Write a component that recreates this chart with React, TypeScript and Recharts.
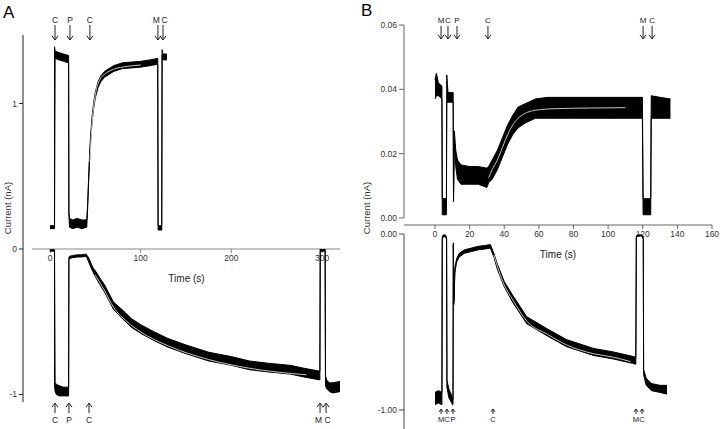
import React from 'react';
import { ComposedChart, Area, Line, XAxis, YAxis, ReferenceLine, ReferenceDot, Label } from 'recharts';

// ---------- panel A : upper trace (positive current) ----------
const aUpT = [0, 4.9, 5.0, 5.6, 10, 15, 20.5, 20.8, 21.5, 25, 30, 35, 40.5, 41.5, 42.5, 43.5, 44.5, 45.5, 46.5, 48, 50, 53, 56, 60, 65, 70, 80, 90, 100, 110, 118.8, 119.2, 123.2, 123.6, 124.5, 129];
const aUpLo = [0.14, 0.14, 0.14, 1.31, 1.30, 1.29, 1.28, 0.24, 0.15, 0.14, 0.15, 0.14, 0.15, 0.28, 0.45, 0.60, 0.72, 0.81, 0.88, 0.96, 1.04, 1.11, 1.15, 1.18, 1.20, 1.22, 1.24, 1.245, 1.25, 1.26, 1.27, 0.13, 0.13, 1.33, 1.30, 1.30];
const aUpHi = [0.16, 0.16, 1.39, 1.36, 1.35, 1.34, 1.33, 0.25, 0.21, 0.20, 0.21, 0.20, 0.20, 0.31, 0.48, 0.63, 0.75, 0.84, 0.92, 1.00, 1.08, 1.15, 1.19, 1.22, 1.24, 1.26, 1.28, 1.285, 1.29, 1.30, 1.31, 0.16, 0.16, 1.37, 1.34, 1.34];
const aUpFitT = [44, 46, 50, 55, 60, 70, 85, 100];
const aUpFitV = [0.6, 0.83, 1.06, 1.165, 1.2, 1.235, 1.255, 1.265];

// ---------- panel A : lower trace (negative current) ----------
const aDnT = [0, 4.9, 5.0, 5.6, 7, 10, 15, 20.5, 20.8, 21.5, 25, 30, 35, 40, 41, 43, 45, 47.5, 50, 55, 60, 65, 70, 80, 90, 100, 115, 130, 150, 175, 200, 220, 240, 265, 280, 297.6, 298, 303.4, 303.8, 305, 308, 312, 320];
const aDnLo = [-0.015, -0.015, -0.94, -0.98, -1.0, -1.01, -1.01, -1.01, -0.08, -0.065, -0.06, -0.055, -0.055, -0.05, -0.065, -0.095, -0.125, -0.16, -0.19, -0.245, -0.295, -0.355, -0.415, -0.48, -0.54, -0.58, -0.63, -0.675, -0.72, -0.77, -0.8, -0.83, -0.845, -0.86, -0.88, -0.9, -0.015, -0.015, -0.94, -0.96, -0.98, -0.99, -0.98];
const aDnHi = [-0.005, -0.005, -0.005, -0.92, -0.93, -0.94, -0.95, -0.95, -0.06, -0.05, -0.045, -0.04, -0.04, -0.035, -0.045, -0.065, -0.095, -0.13, -0.15, -0.2, -0.245, -0.305, -0.365, -0.42, -0.48, -0.52, -0.57, -0.615, -0.66, -0.71, -0.74, -0.77, -0.785, -0.8, -0.82, -0.84, 0.0, 0.0, -0.87, -0.9, -0.92, -0.92, -0.91];
const aDnFitT = [50, 60, 70, 85, 100, 130, 175, 220, 283];
const aDnFitV = [-0.18, -0.285, -0.4, -0.5, -0.57, -0.665, -0.76, -0.82, -0.865];

// ---------- panel B : upper trace ----------
const bUpT = [0, 0.8, 2, 4.0, 4.2, 6.6, 6.8, 7.5, 10.5, 10.7, 11.2, 12, 13, 15, 20, 25, 30, 31, 33, 36, 39, 42, 45, 48, 52, 58, 65, 80, 100, 119.8, 120.2, 124.6, 124.9, 130, 136];
const bUpLo = [0.037, 0.038, 0.038, 0.037, 0.001, 0.001, 0.036, 0.036, 0.036, 0.005, 0.024, 0.016, 0.012, 0.0105, 0.0105, 0.0105, 0.0095, 0.011, 0.012, 0.015, 0.019, 0.023, 0.026, 0.028, 0.0295, 0.031, 0.031, 0.031, 0.031, 0.031, 0.001, 0.001, 0.031, 0.031, 0.031];
const bUpHi = [0.043, 0.045, 0.042, 0.041, 0.006, 0.006, 0.0445, 0.039, 0.039, 0.006, 0.027, 0.021, 0.018, 0.0165, 0.016, 0.016, 0.0155, 0.016, 0.018, 0.021, 0.025, 0.029, 0.032, 0.0345, 0.0355, 0.037, 0.0375, 0.0375, 0.0375, 0.0375, 0.006, 0.006, 0.038, 0.0375, 0.037];
const bUpFitT = [31, 33, 36, 39, 42, 45, 48, 52, 58, 70, 90, 110];
const bUpFitV = [0.0125, 0.015, 0.018, 0.022, 0.026, 0.029, 0.031, 0.0325, 0.0335, 0.034, 0.0342, 0.0343];

// ---------- panel B : lower trace ----------
const bDnT = [0, 2, 4.0, 4.2, 4.8, 6.0, 6.7, 6.9, 8, 10.2, 10.4, 10.6, 10.9, 11.5, 12.5, 14, 17, 21, 25, 29, 32, 34, 36, 40, 45, 53, 65, 76, 91.5, 103, 114, 116, 116.3, 117, 119.5, 120.3, 120.5, 122, 125, 130, 134];
const bDnLo = [-0.97, -0.96, -0.97, -0.03, -0.015, -0.015, -0.03, -0.87, -0.93, -0.97, -0.97, -0.06, -0.4, -0.22, -0.16, -0.13, -0.11, -0.1, -0.09, -0.085, -0.08, -0.13, -0.2, -0.3, -0.39, -0.51, -0.58, -0.64, -0.69, -0.71, -0.735, -0.74, -0.02, -0.01, -0.01, -0.03, -0.8, -0.86, -0.89, -0.9, -0.91];
const bDnHi = [-0.9, -0.89, -0.9, -0.015, -0.005, -0.005, -0.02, -0.83, -0.88, -0.93, -0.94, -0.05, -0.38, -0.19, -0.14, -0.11, -0.09, -0.08, -0.07, -0.065, -0.06, -0.11, -0.17, -0.27, -0.35, -0.47, -0.54, -0.6, -0.65, -0.67, -0.695, -0.7, -0.01, -0.005, -0.005, -0.02, -0.77, -0.82, -0.85, -0.86, -0.86];
const bDnFitT = [34, 40, 45, 53, 65, 76, 91.5, 103, 113];
const bDnFitV = [-0.12, -0.29, -0.375, -0.495, -0.57, -0.63, -0.68, -0.7, -0.725];

// ---------- solution-change markers ----------
const aTopEvT = [5.5, 22, 44, 119, 124.6];
const aTopEvL = ['C', 'P', 'C', 'M', 'C'];
const aBotEvT = [5.5, 20.9, 43, 297.8, 304.4];
const aBotEvL = ['C', 'P', 'C', 'M', 'C'];
const bTopEvT = [3.5, 7.5, 12.7, 30.6, 120.2, 125.4];
const bTopEvL = ['M', 'C', 'P', 'C', 'M', 'C'];
const bBotEvT = [3.5, 6.9, 10.4, 33.5, 116.1, 119.6];
const bBotEvL = ['M', 'C', 'P', 'C', 'M', 'C'];

const aTicksX = [0, 100, 200, 300];
const bTicksX = [0, 20, 40, 60, 80, 100, 120, 140, 160];

const band = (t: number[], lo: number[], hi: number[]) => t.map((x, i) => ({ t: x, lo: lo[i], hi: hi[i] }));
const fit = (t: number[], v: number[]) => t.map((x, i) => ({ t: x, v: v[i] }));

const FONT = '"Liberation Sans", Arial, sans-serif';
const tickStyle = { fontSize: 8.5, fill: '#333', fontFamily: FONT };
const W = 720;
const H = 429;
const A_X: [number, number] = [-29.8, 319.8];
const B_X: [number, number] = [-17.9, 160];

// push two letters apart when their arrows sit close together
const nudge = (times: number[], i: number, gap: number) => {
  if (i + 1 < times.length && times[i + 1] - times[i] < gap) return -1.6;
  if (i > 0 && times[i] - times[i - 1] < gap) return 1.6;
  return 0;
};

// arrow + letter drawn at a marker position; offsets in px from the dot
const arrow = (label: string, tail: number, head: number, text: number, fs: number, hw: number, dx = 0) => (p: any) => {
  const { cx, cy } = p;
  const y1 = cy + tail;
  const y2 = cy + head;
  const d = y1 > y2 ? 1 : -1;
  return (
    <g>
      <line x1={cx} y1={y1} x2={cx} y2={y2} stroke="#222" strokeWidth={1} />
      <polyline points={`${cx - hw},${y2 + d * hw * 1.4} ${cx},${y2} ${cx + hw},${y2 + d * hw * 1.4}`} fill="none" stroke="#222" strokeWidth={1} />
      <text x={cx + dx} y={cy + text} textAnchor="middle" dominantBaseline="central" fontSize={fs} fill="#222" fontFamily={FONT}>{label}</text>
    </g>
  );
};

const trace = (rows: any[], key: string) => (
  <Area key={key} type="linear" data={rows} dataKey={(d: any) => [d.lo, d.hi]} stroke="#000" strokeWidth={1} fill="#000" fillOpacity={1} dot={false} activeDot={false} isAnimationActive={false} />
);
const fitLine = (rows: any[], key: string) => (
  <Line key={key} type="monotone" data={rows} dataKey="v" stroke="#c4c4c4" strokeWidth={1} dot={false} activeDot={false} isAnimationActive={false} />
);

const abs: React.CSSProperties = { position: 'absolute', left: 0, top: 0 };

export default function App() {
  return (
    <div style={{ position: 'absolute', left: 0, top: 0, width: W, height: H, background: '#fff', overflow: 'hidden', fontFamily: FONT }}>
      {/* panel A, positive half with time axis */}
      <div style={abs}>
        <ComposedChart width={W} height={H} margin={{ top: 35, right: 380, bottom: 147, left: 3 }}>
          <XAxis type="number" dataKey="t" domain={A_X} allowDataOverflow ticks={aTicksX} interval={0} axisLine={false} tickLine={{ stroke: '#888' }} tickSize={4} tick={tickStyle} height={33}>
            <Label value="Time (s)" position="insideBottom" offset={0} dx={5} style={{ fontSize: 10, fill: '#222', fontFamily: FONT }} />
          </XAxis>
          <YAxis type="number" domain={[0, 1.471]} allowDataOverflow ticks={[0, 1]} interval={0} width={20} tickSize={4} axisLine={{ stroke: '#222' }} tickLine={{ stroke: '#222' }} tick={tickStyle} />
          <ReferenceLine segment={[{ x: -20, y: 0 }, { x: 319.8, y: 0 }]} stroke="#888" ifOverflow="visible" />
          {trace(band(aUpT, aUpLo, aUpHi), 'aup')}
          {fitLine(fit(aUpFitT, aUpFitV), 'aupfit')}
          {aTopEvT.map((t, i) => (
            <ReferenceDot key={'at' + i} x={t} y={1.471} ifOverflow="visible" shape={arrow(aTopEvL[i], -10, 5, -15, 8.5, 3, nudge(aTopEvT, i, 8))} />
          ))}
        </ComposedChart>
      </div>
      {/* panel A, negative half */}
      <div style={abs}>
        <ComposedChart width={W} height={H} margin={{ top: 249, right: 380, bottom: 27, left: 3 }}>
          <XAxis type="number" dataKey="t" domain={A_X} allowDataOverflow hide />
          <YAxis type="number" domain={[-1.052, 0]} allowDataOverflow ticks={[-1]} interval={0} width={20} tickSize={4} axisLine={{ stroke: '#222' }} tickLine={{ stroke: '#222' }} tick={tickStyle} />
          {trace(band(aDnT, aDnLo, aDnHi), 'adn')}
          {fitLine(fit(aDnFitT, aDnFitV), 'adnfit')}
          {aBotEvT.map((t, i) => (
            <ReferenceDot key={'ab' + i} x={t} y={-1.052} ifOverflow="visible" shape={arrow(aBotEvL[i], 11, 1, 18, 8.5, 3, nudge(aBotEvT, i, 8))} />
          ))}
        </ComposedChart>
      </div>
      {/* panel B, upper */}
      <div style={abs}>
        <ComposedChart width={W} height={H} margin={{ top: 25, right: 8, bottom: 171, left: 360 }}>
          <XAxis type="number" dataKey="t" domain={B_X} allowDataOverflow ticks={bTicksX} interval={0} axisLine={{ stroke: '#666' }} tickLine={{ stroke: '#666' }} tickSize={4} tick={tickStyle} height={33}>
            <Label value="Time (s)" position="insideBottom" offset={0} style={{ fontSize: 10, fill: '#222', fontFamily: FONT }} />
          </XAxis>
          <YAxis type="number" domain={[-0.00218, 0.06]} allowDataOverflow ticks={[0, 0.02, 0.04, 0.06]} interval={0} width={44} tickSize={5} axisLine={false} tickLine={{ stroke: '#666' }} tick={tickStyle} tickFormatter={(v: number) => v.toFixed(2)} />
          <ReferenceLine segment={[{ x: B_X[0], y: 0 }, { x: B_X[0], y: 0.06 }]} stroke="#666" ifOverflow="visible" />
          {trace(band(bUpT, bUpLo, bUpHi), 'bup')}
          {fitLine(fit(bUpFitT, bUpFitV), 'bupfit')}
          {bTopEvT.map((t, i) => (
            <ReferenceDot key={'bt' + i} x={t} y={0.06} ifOverflow="visible" shape={arrow(bTopEvL[i], 1, 14, -5, 8, 3)} />
          ))}
        </ComposedChart>
      </div>
      {/* panel B, lower */}
      <div style={abs}>
        <ComposedChart width={W} height={H} margin={{ top: 234, right: 8, bottom: 0, left: 360 }}>
          <XAxis type="number" dataKey="t" domain={B_X} allowDataOverflow hide />
          <YAxis type="number" domain={[-1.108, 0]} allowDataOverflow ticks={[-1, 0]} interval={0} width={44} tickSize={5} axisLine={{ stroke: '#444' }} tickLine={{ stroke: '#444' }} tick={tickStyle} tickFormatter={(v: number) => v.toFixed(2)} />
          {trace(band(bDnT, bDnLo, bDnHi), 'bdn')}
          {fitLine(fit(bDnFitT, bDnFitV), 'bdnfit')}
          {bBotEvT.map((t, i) => (
            <ReferenceDot key={'bb' + i} x={t} y={-1} ifOverflow="visible" shape={arrow(bBotEvL[i], 4, -1, 10, 7.5, 2)} />
          ))}
        </ComposedChart>
      </div>

      <div style={{ position: 'absolute', left: 3, top: 4, fontSize: 17, lineHeight: '17px', color: '#000' }}>A</div>
      <div style={{ position: 'absolute', left: 361, top: 2, fontSize: 17, lineHeight: '17px', color: '#000' }}>B</div>
      <div style={{ position: 'absolute', left: 7, top: 208, transform: 'translate(-50%, -50%) rotate(-90deg)', fontSize: 9.5, whiteSpace: 'nowrap', color: '#333' }}>Current (nA)</div>
      <div style={{ position: 'absolute', left: 366, top: 208, transform: 'translate(-50%, -50%) rotate(-90deg)', fontSize: 9.5, whiteSpace: 'nowrap', color: '#333' }}>Current (nA)</div>
    </div>
  );
}
